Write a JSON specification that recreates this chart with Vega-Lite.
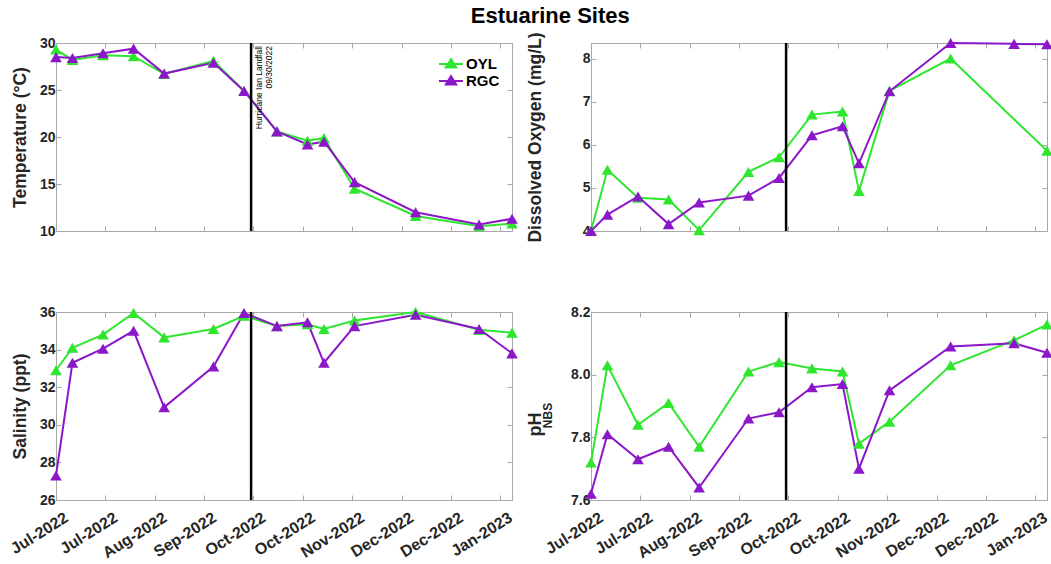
{
  "$schema": "https://vega.github.io/schema/vega-lite/v6.json",
  "title": {"text": "Estuarine Sites", "fontSize": 22, "fontWeight": "bold", "color": "#000000", "anchor": "middle", "offset": 3, "dx": 20, "font": "Liberation Sans"},
  "padding": {"left": 7, "top": 5, "right": 3, "bottom": 3},
  "datasets": {
    "obs": [
      {"date": "2022-07-09", "site": "OYL", "temp": 29.3, "oxygen": 4.0, "sal": 32.9, "ph": 7.72},
      {"date": "2022-07-16", "site": "OYL", "temp": 28.2, "oxygen": 5.42, "sal": 34.1, "ph": 8.03},
      {"date": "2022-07-29", "site": "OYL", "temp": 28.7, "oxygen": 4.77, "sal": 34.8, "ph": 7.84},
      {"date": "2022-08-11", "site": "OYL", "temp": 28.6, "oxygen": 4.73, "sal": 35.95, "ph": 7.91},
      {"date": "2022-08-24", "site": "OYL", "temp": 26.7, "oxygen": 4.02, "sal": 34.65, "ph": 7.77},
      {"date": "2022-09-14", "site": "OYL", "temp": 28.1, "oxygen": 5.37, "sal": 35.1, "ph": 8.01},
      {"date": "2022-09-27", "site": "OYL", "temp": 24.9, "oxygen": 5.71, "sal": 35.8, "ph": 8.04},
      {"date": "2022-10-11", "site": "OYL", "temp": 20.6, "oxygen": 6.70, "sal": 35.25, "ph": 8.02},
      {"date": "2022-10-24", "site": "OYL", "temp": 19.6, "oxygen": 6.77, "sal": 35.35, "ph": 8.01},
      {"date": "2022-10-31", "site": "OYL", "temp": 19.9, "oxygen": 4.93, "sal": 35.1, "ph": 7.78},
      {"date": "2022-11-13", "site": "OYL", "temp": 14.5, "oxygen": 7.25, "sal": 35.55, "ph": 7.85},
      {"date": "2022-12-09", "site": "OYL", "temp": 11.6, "oxygen": 8.0, "sal": 36.0, "ph": 8.03},
      {"date": "2023-01-05", "site": "OYL", "temp": 10.5, "oxygen": null, "sal": 35.05, "ph": 8.11},
      {"date": "2023-01-19", "site": "OYL", "temp": 10.8, "oxygen": 5.86, "sal": 34.9, "ph": 8.16},
      {"date": "2022-07-09", "site": "RGC", "temp": 28.5, "oxygen": 4.0, "sal": 27.3, "ph": 7.62},
      {"date": "2022-07-16", "site": "RGC", "temp": 28.4, "oxygen": 4.38, "sal": 33.3, "ph": 7.81},
      {"date": "2022-07-29", "site": "RGC", "temp": 28.9, "oxygen": 4.80, "sal": 34.05, "ph": 7.73},
      {"date": "2022-08-11", "site": "RGC", "temp": 29.4, "oxygen": 4.16, "sal": 35.0, "ph": 7.77},
      {"date": "2022-08-24", "site": "RGC", "temp": 26.75, "oxygen": 4.66, "sal": 30.93, "ph": 7.64},
      {"date": "2022-09-14", "site": "RGC", "temp": 27.9, "oxygen": 4.82, "sal": 33.1, "ph": 7.86},
      {"date": "2022-09-27", "site": "RGC", "temp": 24.9, "oxygen": 5.23, "sal": 35.95, "ph": 7.88},
      {"date": "2022-10-11", "site": "RGC", "temp": 20.6, "oxygen": 6.22, "sal": 35.25, "ph": 7.96},
      {"date": "2022-10-24", "site": "RGC", "temp": 19.2, "oxygen": 6.43, "sal": 35.45, "ph": 7.97},
      {"date": "2022-10-31", "site": "RGC", "temp": 19.5, "oxygen": 5.57, "sal": 33.3, "ph": 7.70},
      {"date": "2022-11-13", "site": "RGC", "temp": 15.2, "oxygen": 7.24, "sal": 35.25, "ph": 7.95},
      {"date": "2022-12-09", "site": "RGC", "temp": 12.0, "oxygen": 8.36, "sal": 35.85, "ph": 8.09},
      {"date": "2023-01-05", "site": "RGC", "temp": 10.7, "oxygen": 8.34, "sal": 35.1, "ph": 8.10},
      {"date": "2023-01-19", "site": "RGC", "temp": 11.3, "oxygen": 8.33, "sal": 33.8, "ph": 8.07}
    ],
    "storm": [{"date": "2022-09-30", "note": "Hurricane Ian Landfall\n09/30/2022"}]
  },
  "config": {
    "font": "Liberation Sans",
    "view": {"stroke": "#a8a8a8", "strokeWidth": 1},
    "axis": {
      "grid": false, "domain": false, "tickColor": "#a8a8a8", "tickSize": -5, "tickWidth": 1,
      "labelFont": "Liberation Sans", "labelFontSize": 14, "labelFontWeight": "bold", "labelColor": "#262626", "labelPadding": 6,
      "titleFont": "Liberation Sans", "titleFontSize": 17.5, "titleFontWeight": "bold", "titleColor": "#262626", "titlePadding": 10
    }
  },
  "columns": 2,
  "spacing": {"row": 81, "column": 79},
  "bounds": "flush",
  "resolve": {"legend": {"color": "independent"}},
  "concat": [
    {
      "width": 456, "height": 188,
      "data": {"name": "obs"},
      "layer": [
        {
          "mark": {"type": "line", "strokeWidth": 2},
          "encoding": {
            "x": {"field": "date", "type": "temporal",
              "scale": {"type": "utc", "nice": false, "domain": [{"year": 2022, "month": 7, "date": 9, "utc": true}, {"year": 2023, "month": 1, "date": 19, "utc": true}]},
              "axis": {"orient": "bottom", "labels": false, "title": null, "values": [{"year": 2022, "month": 7, "date": 9, "utc": true}, {"year": 2022, "month": 7, "date": 30, "utc": true}, {"year": 2022, "month": 8, "date": 20, "utc": true}, {"year": 2022, "month": 9, "date": 10, "utc": true}, {"year": 2022, "month": 10, "date": 1, "utc": true}, {"year": 2022, "month": 10, "date": 22, "utc": true}, {"year": 2022, "month": 11, "date": 12, "utc": true}, {"year": 2022, "month": 12, "date": 3, "utc": true}, {"year": 2022, "month": 12, "date": 24, "utc": true}, {"year": 2023, "month": 1, "date": 14, "utc": true}]}},
            "y": {"field": "temp", "type": "quantitative", "scale": {"domain": [10, 30], "nice": false, "zero": false},
              "axis": {"title": "Temperature (°C)", "values": [10, 15, 20, 25, 30]}},
            "color": {"field": "site", "type": "nominal", "scale": {"domain": ["OYL", "RGC"], "range": ["#2ee62e", "#8b17c9"]},
              "legend": {"orient": "top-right", "title": null, "offset": 12, "padding": 0, "rowPadding": -1,
                "symbolType": "M-1.5,0H1.5M-0.65,0.45L0,-0.6L0.65,0.45Z", "symbolSize": 256, "symbolStrokeWidth": 2, "labelOffset": 6,
                "labelFont": "Liberation Sans", "labelFontSize": 15, "labelFontWeight": "bold", "labelColor": "#000000",
                "encode": {"symbols": {"update": {"fill": {"scale": "color", "field": "value"}, "stroke": {"scale": "color", "field": "value"}, "opacity": {"value": 1}}}}}}
          }
        },
        {
          "mark": {"type": "point", "shape": "triangle-up", "filled": true, "size": 135, "opacity": 1},
          "encoding": {
            "x": {"field": "date", "type": "temporal", "scale": {"type": "utc"},
              "axis": {"orient": "top", "labels": false, "title": null, "values": [{"year": 2022, "month": 7, "date": 9, "utc": true}, {"year": 2022, "month": 7, "date": 30, "utc": true}, {"year": 2022, "month": 8, "date": 20, "utc": true}, {"year": 2022, "month": 9, "date": 10, "utc": true}, {"year": 2022, "month": 10, "date": 1, "utc": true}, {"year": 2022, "month": 10, "date": 22, "utc": true}, {"year": 2022, "month": 11, "date": 12, "utc": true}, {"year": 2022, "month": 12, "date": 3, "utc": true}, {"year": 2022, "month": 12, "date": 24, "utc": true}, {"year": 2023, "month": 1, "date": 14, "utc": true}]}},
            "y": {"field": "temp", "type": "quantitative", "axis": {"orient": "right", "labels": false, "title": null, "values": [10, 15, 20, 25, 30]}},
            "color": {"field": "site", "type": "nominal", "legend": null}
          }
        },
        {
          "data": {"name": "storm"},
          "mark": {"type": "rule", "color": "#000000", "strokeWidth": 2.5},
          "encoding": {"x": {"field": "date", "type": "temporal", "scale": {"type": "utc"}, "axis": null}}
        },
        {
          "data": {"name": "storm"},
          "mark": {"type": "text", "angle": 270, "align": "right", "baseline": "top", "lineBreak": "\n", "fontSize": 8.5, "lineHeight": 9.5, "color": "#000000", "dx": -3, "dy": 4},
          "encoding": {
            "x": {"field": "date", "type": "temporal", "scale": {"type": "utc"}, "axis": null},
            "y": {"datum": 30, "type": "quantitative", "axis": null},
            "text": {"field": "note"}
          }
        }
      ],
      "resolve": {"axis": {"x": "independent", "y": "independent"}}
    },
    {
      "width": 456, "height": 188,
      "data": {"name": "obs"},
      "transform": [{"filter": {"field": "oxygen", "valid": true}}],
      "layer": [
        {
          "mark": {"type": "line", "strokeWidth": 2},
          "encoding": {
            "x": {"field": "date", "type": "temporal",
              "scale": {"type": "utc", "nice": false, "domain": [{"year": 2022, "month": 7, "date": 9, "utc": true}, {"year": 2023, "month": 1, "date": 19, "utc": true}]},
              "axis": {"orient": "bottom", "labels": false, "title": null, "values": [{"year": 2022, "month": 7, "date": 9, "utc": true}, {"year": 2022, "month": 7, "date": 30, "utc": true}, {"year": 2022, "month": 8, "date": 20, "utc": true}, {"year": 2022, "month": 9, "date": 10, "utc": true}, {"year": 2022, "month": 10, "date": 1, "utc": true}, {"year": 2022, "month": 10, "date": 22, "utc": true}, {"year": 2022, "month": 11, "date": 12, "utc": true}, {"year": 2022, "month": 12, "date": 3, "utc": true}, {"year": 2022, "month": 12, "date": 24, "utc": true}, {"year": 2023, "month": 1, "date": 14, "utc": true}]}},
            "y": {"field": "oxygen", "type": "quantitative", "scale": {"domain": [4, 8.36], "nice": false, "zero": false},
              "axis": {"title": "Dissolved Oxygen (mg/L)", "titleX": -47, "titleY": 94, "values": [4, 5, 6, 7, 8]}},
            "color": {"field": "site", "type": "nominal", "legend": null}
          }
        },
        {
          "mark": {"type": "point", "shape": "triangle-up", "filled": true, "size": 135, "opacity": 1},
          "encoding": {
            "x": {"field": "date", "type": "temporal", "scale": {"type": "utc"},
              "axis": {"orient": "top", "labels": false, "title": null, "values": [{"year": 2022, "month": 7, "date": 9, "utc": true}, {"year": 2022, "month": 7, "date": 30, "utc": true}, {"year": 2022, "month": 8, "date": 20, "utc": true}, {"year": 2022, "month": 9, "date": 10, "utc": true}, {"year": 2022, "month": 10, "date": 1, "utc": true}, {"year": 2022, "month": 10, "date": 22, "utc": true}, {"year": 2022, "month": 11, "date": 12, "utc": true}, {"year": 2022, "month": 12, "date": 3, "utc": true}, {"year": 2022, "month": 12, "date": 24, "utc": true}, {"year": 2023, "month": 1, "date": 14, "utc": true}]}},
            "y": {"field": "oxygen", "type": "quantitative", "axis": {"orient": "right", "labels": false, "title": null, "values": [4, 5, 6, 7, 8]}},
            "color": {"field": "site", "type": "nominal", "legend": null}
          }
        },
        {
          "data": {"name": "storm"},
          "mark": {"type": "rule", "color": "#000000", "strokeWidth": 2.5},
          "encoding": {"x": {"field": "date", "type": "temporal", "scale": {"type": "utc"}, "axis": null}}
        }
      ],
      "resolve": {"axis": {"x": "independent", "y": "independent"}}
    },
    {
      "width": 456, "height": 188,
      "data": {"name": "obs"},
      "layer": [
        {
          "mark": {"type": "line", "strokeWidth": 2},
          "encoding": {
            "x": {"field": "date", "type": "temporal",
              "scale": {"type": "utc", "nice": false, "domain": [{"year": 2022, "month": 7, "date": 9, "utc": true}, {"year": 2023, "month": 1, "date": 19, "utc": true}]},
              "axis": {"orient": "bottom", "title": null, "format": "%b-%Y", "labelAngle": -32, "labelAlign": "right", "labelBaseline": "top", "labelOverlap": false, "labelFlush": false, "labelFontSize": 16, "labelOffset": 6, "labelPadding": 14,
                "values": [{"year": 2022, "month": 7, "date": 9, "utc": true}, {"year": 2022, "month": 7, "date": 30, "utc": true}, {"year": 2022, "month": 8, "date": 20, "utc": true}, {"year": 2022, "month": 9, "date": 10, "utc": true}, {"year": 2022, "month": 10, "date": 1, "utc": true}, {"year": 2022, "month": 10, "date": 22, "utc": true}, {"year": 2022, "month": 11, "date": 12, "utc": true}, {"year": 2022, "month": 12, "date": 3, "utc": true}, {"year": 2022, "month": 12, "date": 24, "utc": true}, {"year": 2023, "month": 1, "date": 14, "utc": true}]}},
            "y": {"field": "sal", "type": "quantitative", "scale": {"domain": [26, 36], "nice": false, "zero": false},
              "axis": {"title": "Salinity (ppt)", "values": [26, 28, 30, 32, 34, 36]}},
            "color": {"field": "site", "type": "nominal", "legend": null}
          }
        },
        {
          "mark": {"type": "point", "shape": "triangle-up", "filled": true, "size": 135, "opacity": 1},
          "encoding": {
            "x": {"field": "date", "type": "temporal", "scale": {"type": "utc"},
              "axis": {"orient": "top", "labels": false, "title": null, "values": [{"year": 2022, "month": 7, "date": 9, "utc": true}, {"year": 2022, "month": 7, "date": 30, "utc": true}, {"year": 2022, "month": 8, "date": 20, "utc": true}, {"year": 2022, "month": 9, "date": 10, "utc": true}, {"year": 2022, "month": 10, "date": 1, "utc": true}, {"year": 2022, "month": 10, "date": 22, "utc": true}, {"year": 2022, "month": 11, "date": 12, "utc": true}, {"year": 2022, "month": 12, "date": 3, "utc": true}, {"year": 2022, "month": 12, "date": 24, "utc": true}, {"year": 2023, "month": 1, "date": 14, "utc": true}]}},
            "y": {"field": "sal", "type": "quantitative", "axis": {"orient": "right", "labels": false, "title": null, "values": [26, 28, 30, 32, 34, 36]}},
            "color": {"field": "site", "type": "nominal", "legend": null}
          }
        },
        {
          "data": {"name": "storm"},
          "mark": {"type": "rule", "color": "#000000", "strokeWidth": 2.5},
          "encoding": {"x": {"field": "date", "type": "temporal", "scale": {"type": "utc"}, "axis": null}}
        }
      ],
      "resolve": {"axis": {"x": "independent", "y": "independent"}}
    },
    {
      "width": 456, "height": 188,
      "data": {"name": "obs"},
      "layer": [
        {
          "mark": {"type": "line", "strokeWidth": 2},
          "encoding": {
            "x": {"field": "date", "type": "temporal",
              "scale": {"type": "utc", "nice": false, "domain": [{"year": 2022, "month": 7, "date": 9, "utc": true}, {"year": 2023, "month": 1, "date": 19, "utc": true}]},
              "axis": {"orient": "bottom", "title": null, "format": "%b-%Y", "labelAngle": -32, "labelAlign": "right", "labelBaseline": "top", "labelOverlap": false, "labelFlush": false, "labelFontSize": 16, "labelOffset": 6, "labelPadding": 14,
                "values": [{"year": 2022, "month": 7, "date": 9, "utc": true}, {"year": 2022, "month": 7, "date": 30, "utc": true}, {"year": 2022, "month": 8, "date": 20, "utc": true}, {"year": 2022, "month": 9, "date": 10, "utc": true}, {"year": 2022, "month": 10, "date": 1, "utc": true}, {"year": 2022, "month": 10, "date": 22, "utc": true}, {"year": 2022, "month": 11, "date": 12, "utc": true}, {"year": 2022, "month": 12, "date": 3, "utc": true}, {"year": 2022, "month": 12, "date": 24, "utc": true}, {"year": 2023, "month": 1, "date": 14, "utc": true}]}},
            "y": {"field": "ph", "type": "quantitative", "scale": {"domain": [7.6, 8.2], "nice": false, "zero": false},
              "axis": {"title": "pH", "titleFontSize": 18, "titleX": -47, "titleY": 112, "format": ".1f", "values": [7.6, 7.8, 8.0, 8.2]}},
            "color": {"field": "site", "type": "nominal", "legend": null}
          }
        },
        {
          "mark": {"type": "point", "shape": "triangle-up", "filled": true, "size": 135, "opacity": 1},
          "encoding": {
            "x": {"field": "date", "type": "temporal", "scale": {"type": "utc"},
              "axis": {"orient": "top", "labels": false, "title": null, "values": [{"year": 2022, "month": 7, "date": 9, "utc": true}, {"year": 2022, "month": 7, "date": 30, "utc": true}, {"year": 2022, "month": 8, "date": 20, "utc": true}, {"year": 2022, "month": 9, "date": 10, "utc": true}, {"year": 2022, "month": 10, "date": 1, "utc": true}, {"year": 2022, "month": 10, "date": 22, "utc": true}, {"year": 2022, "month": 11, "date": 12, "utc": true}, {"year": 2022, "month": 12, "date": 3, "utc": true}, {"year": 2022, "month": 12, "date": 24, "utc": true}, {"year": 2023, "month": 1, "date": 14, "utc": true}]}},
            "y": {"field": "ph", "type": "quantitative", "axis": {"orient": "right", "labels": false, "values": [7.6, 7.8, 8.0, 8.2],
              "title": "NBS", "titleFontSize": 12, "titleAngle": 270, "titleBaseline": "bottom", "titleX": -493, "titleY": 103}},
            "color": {"field": "site", "type": "nominal", "legend": null}
          }
        },
        {
          "data": {"name": "storm"},
          "mark": {"type": "rule", "color": "#000000", "strokeWidth": 2.5},
          "encoding": {"x": {"field": "date", "type": "temporal", "scale": {"type": "utc"}, "axis": null}}
        }
      ],
      "resolve": {"axis": {"x": "independent", "y": "independent"}}
    }
  ]
}
